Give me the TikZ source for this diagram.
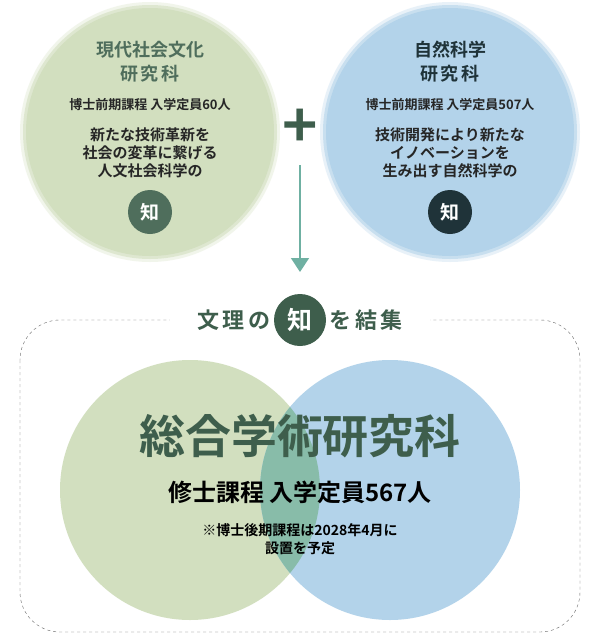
\documentclass[tikz,border=0pt]{standalone}
\usepackage{fontspec}
\setmainfont{Noto Sans CJK JP}[BoldFont={* Bold}]
\usetikzlibrary{arrows.meta}
\definecolor{leafgreen}{HTML}{D2DFBF}
\definecolor{skyblue}{HTML}{B3D3EA}
\definecolor{deepgreen}{HTML}{3E5E4C}
\definecolor{midgreen}{HTML}{4F6E5C}
\definecolor{navy}{HTML}{1F3339}
\definecolor{teal}{HTML}{6FB0A2}
\tikzset{
  fs/.style={font=\bfseries\fontsize{#1}{#1}\selectfont},
  chi/.style={circle,minimum size=44pt,inner sep=0pt,text=white,fs=19},
  body/.style={fs=15,text=black!85},
}
\begin{document}
\begin{tikzpicture}[x=1pt,y=-1pt]
\useasboundingbox[fill=white] (0,0) rectangle (600,643);
% upper circles
\foreach \r/\o in {130/0.3,127/0.6,124/1}{
  \fill[leafgreen,opacity=\o] (150,132) circle (\r);
  \fill[skyblue,opacity=\o] (450,132) circle (\r);
}
\node[fs=18,text=midgreen,align=center] (lname) at (150,62) {現代社会文化\\[6pt]研\,究\,科};
\node[fs=13,text=black!85] (lcap) at (150,105) {博士前期課程 入学定員60人};
\node[body,align=center] (ltext) at (150,153) {新たな技術革新を\\[3pt]社会の変革に繋げる\\[3pt]人文社会科学の};
\node[chi,fill=midgreen] (lchi) at (150,212) {知};
\node[fs=18,text=navy,align=center] (rname) at (450,62) {自然科学\\[6pt]研\,究\,科};
\node[fs=13,text=black!85] (rcap) at (450,105) {博士前期課程 入学定員507人};
\node[body,align=center] (rtext) at (450,153) {技術開発により新たな\\[3pt]イノベーションを\\[3pt]生み出す自然科学の};
\node[chi,fill=navy] (rchi) at (450,212) {知};
% plus
\node[fs=60,text=deepgreen] (plus) at (300,128) {+};
\coordinate (astart) at (300,165);
\coordinate (aend) at (300,272);
\draw[teal,line width=1.5pt,-{Triangle[length=14pt,width=18pt]}] (astart) -- (aend);
% lower frame
\draw[dashed,black!60,rounded corners=40pt] (20,320) rectangle (580,632);
\fill[white] (170,300) rectangle (430,340);
\node[fs=22,text=deepgreen,anchor=east] (ttl) at (274,320) {文\,理\,の};
\node[chi,fill=deepgreen,minimum size=52pt,fs=25] (mchi) at (300,320) {知};
\node[fs=22,text=deepgreen,anchor=west] (ttr) at (326,320) {を\,結\,集};
% lower circles
\begin{scope}
\fill[leafgreen] (190,490) circle (130);
\fill[skyblue] (390,490) circle (130);
\clip (190,490) circle (130);
\fill[teal!75!leafgreen] (390,490) circle (130);
\end{scope}
\node[fs=46,text=deepgreen] (main) at (300,436) {総合学術研究科};
\node[fs=24,text=black] (master) at (300,492) {修士課程 入学定員567人};
\node[fs=14,text=black,align=center] (note) at (300,539) {※博士後期課程は2028年4月に\\[4pt]設置を予定};
\end{tikzpicture}
\end{document}
